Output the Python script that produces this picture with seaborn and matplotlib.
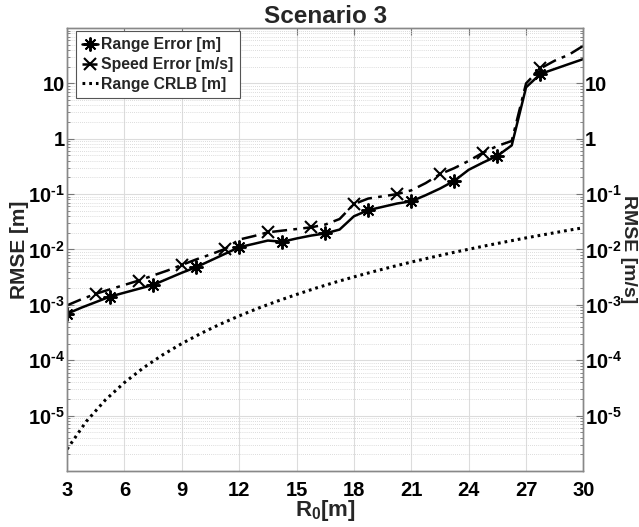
import matplotlib
matplotlib.use("Agg")
import numpy as np
import pandas as pd
import matplotlib.pyplot as plt
import seaborn as sns
from matplotlib.ticker import FixedLocator, FixedFormatter, LogLocator, NullFormatter

# ---------------- data ----------------
r0 = [3.0, 3.75, 4.5, 5.25, 6.0, 6.75, 7.5, 8.25, 9.0, 9.75, 10.5, 11.25,
      12.0, 12.75, 13.5, 14.25, 15.0, 15.75, 16.5, 17.25, 18.0, 18.75, 19.5,
      20.25, 21.0, 21.75, 22.5, 23.25, 24.0, 24.75, 25.5, 26.25, 27.0, 27.75,
      28.5, 29.25, 30.0]

range_error = [6.9e-4, 8.9e-4, 1.12e-3, 1.41e-3, 1.66e-3, 1.95e-3, 2.29e-3,
               2.95e-3, 3.80e-3, 4.79e-3, 6.31e-3, 8.32e-3, 0.0110, 0.0126,
               0.0145, 0.0138, 0.0158, 0.0178, 0.0195, 0.0229, 0.0398, 0.0513,
               0.0589, 0.0676, 0.0741, 0.0955, 0.126, 0.174, 0.275, 0.372,
               0.490, 0.759, 8.5, 14.8, 18.2, 22.4, 27.5]

speed_error = [9.8e-4, 1.26e-3, 1.58e-3, 1.91e-3, 2.29e-3, 2.75e-3, 3.39e-3,
               4.17e-3, 5.25e-3, 6.61e-3, 8.13e-3, 0.0102, 0.0151, 0.0174,
               0.0204, 0.0219, 0.0234, 0.0251, 0.0282, 0.0355, 0.0661, 0.0832,
               0.0912, 0.100, 0.117, 0.158, 0.229, 0.295, 0.398, 0.562, 0.741,
               0.912, 10.0, 18.6, 25.7, 33.1, 47.9]

range_marker_idx = [0, 3, 6, 9, 12, 15, 18, 21, 24, 27, 30, 33]
speed_marker_idx = [2, 5, 8, 11, 14, 17, 20, 23, 26, 29, 33]

r0_crlb = [3, 4, 5, 6, 7, 8, 9, 10, 11, 12, 13, 14, 15, 16, 17, 18, 19, 20,
           21, 22, 23, 24, 25, 26, 27, 28, 29, 30]
range_crlb = [2.47e-6, 7.8e-6, 1.91e-5, 3.95e-5, 7.32e-5, 1.25e-4, 2.00e-4,
              3.05e-4, 4.47e-4, 6.32e-4, 8.71e-4, 1.17e-3, 1.54e-3, 2.00e-3,
              2.55e-3, 3.20e-3, 3.97e-3, 4.88e-3, 5.93e-3, 7.14e-3, 8.54e-3,
              1.01e-2, 1.19e-2, 1.39e-2, 1.62e-2, 1.87e-2, 2.16e-2, 2.47e-2]

x_ticks = [3, 6, 9, 12, 15, 18, 21, 24, 27, 30]
y_ticks = [1e-5, 1e-4, 1e-3, 1e-2, 1e-1, 1, 10]
y_tick_labels = [r"$10^{\text{-}5}$", r"$10^{\text{-}4}$", r"$10^{\text{-}3}$",
                 r"$10^{\text{-}2}$", r"$10^{\text{-}1}$", "1", "10"]

# ---------------- style ----------------
sns.set_theme(style="white")
plt.rcParams.update({
    "font.family": ["Liberation Sans", "DejaVu Sans"],
    "font.weight": "bold",
    "mathtext.fontset": "custom",
    "mathtext.rm": "Liberation Sans:bold",
    "mathtext.it": "Liberation Sans:bold",
    "mathtext.bf": "Liberation Sans:bold",
    "mathtext.sf": "Liberation Sans:bold",
    "mathtext.default": "rm",
})

TICK = 14.5
LAB = 15

fig = plt.figure(figsize=(6.39, 5.27), dpi=100)
ax = fig.add_axes([0.1049, 0.1063, 0.8082, 0.8406])

df = pd.DataFrame({"r0": r0, "range": range_error, "speed": speed_error})
dfc = pd.DataFrame({"r0": r0_crlb, "crlb": range_crlb})

sns.lineplot(data=df, x="r0", y="range", ax=ax, color="black", linewidth=1.8,
             marker=(8, 2, 0), markersize=10, markeredgewidth=1.4,
             markeredgecolor="black", markevery=range_marker_idx,
             label="Range Error [m]")
sns.lineplot(data=df, x="r0", y="speed", ax=ax, color="black", linewidth=1.8,
             linestyle=(0, (6, 2.5, 1.5, 2.5)),
             marker="x", markersize=9, markeredgewidth=1.5,
             markeredgecolor="black", markevery=speed_marker_idx,
             label="Speed Error [m/s]")
sns.lineplot(data=dfc, x="r0", y="crlb", ax=ax, color="black", linewidth=2.2,
             linestyle=(0, (0.9, 1.3)), label="Range CRLB [m]")

ax.set_yscale("log")
ax.set_xlim(3, 30)
ax.set_ylim(1e-6, 100)

ax.xaxis.set_major_locator(FixedLocator(x_ticks))
ax.set_xticklabels([str(t) for t in x_ticks])
ax.yaxis.set_major_locator(FixedLocator(y_ticks))
ax.yaxis.set_major_formatter(FixedFormatter(y_tick_labels))
ax.yaxis.set_minor_locator(LogLocator(base=10, subs=np.arange(2, 10), numticks=20))
ax.yaxis.set_minor_formatter(NullFormatter())

ax.set_axisbelow(True)
ax.grid(True, which="major", color="#dcdcdc", linewidth=0.8, linestyle="-")
ax.grid(True, which="minor", axis="y", color="#d0d0d0", linewidth=0.6,
        linestyle=(0, (1, 1.5)))

ax.tick_params(axis="both", which="both", direction="in", top=True,
               right=False, labelsize=TICK, colors="black")
ax.tick_params(axis="both", which="major", length=5, width=0.8, color="#777777")
ax.tick_params(axis="both", which="minor", length=2.5, width=0.6, color="#777777")
ax.tick_params(axis="x", pad=7)
ax.tick_params(axis="y", pad=1.5)
for lab in ax.get_xticklabels() + ax.get_yticklabels():
    lab.set_fontweight("bold")

for sp in ax.spines.values():
    sp.set_color("#888888")
    sp.set_linewidth(1.0)

ax.set_xlabel(r"$R_0$[m]", fontsize=16, fontweight="bold", labelpad=-1)
ax.set_ylabel("RMSE [m]", fontsize=LAB, fontweight="bold",
              ha="center", va="center")
ax.yaxis.set_label_coords(-0.092, 0.5)
ax.set_title("Scenario 3", fontsize=17.5, fontweight="bold", pad=3)

# right axis (same scale)
ax2 = ax.twinx()
ax2.set_yscale("log")
ax2.set_ylim(1e-6, 100)
ax2.yaxis.set_major_locator(FixedLocator(y_ticks))
ax2.yaxis.set_major_formatter(FixedFormatter(y_tick_labels))
ax2.yaxis.set_minor_locator(LogLocator(base=10, subs=np.arange(2, 10), numticks=20))
ax2.yaxis.set_minor_formatter(NullFormatter())
ax2.tick_params(axis="y", which="both", direction="in", labelsize=TICK,
                colors="black", pad=1.0)
ax2.tick_params(axis="y", which="major", length=5, width=0.8, color="#777777")
ax2.tick_params(axis="y", which="minor", length=2.5, width=0.6, color="#777777")
for lab in ax2.get_yticklabels():
    lab.set_fontweight("bold")
ax2.set_ylabel("RMSE [m/s]", fontsize=14, fontweight="bold", rotation=-90,
               ha="center", va="center")
ax2.yaxis.set_label_coords(1.0875, 0.5)
for sp in ax2.spines.values():
    sp.set_color("#888888")
    sp.set_linewidth(1.0)
ax2.grid(False)

leg = ax.legend(loc="upper left", bbox_to_anchor=(0.0174, 0.993),
                borderaxespad=0, frameon=True, fancybox=False,
                edgecolor="#555555", framealpha=1,
                prop={"weight": "bold", "size": 11.3},
                handlelength=1.0, handletextpad=0.2, borderpad=0.4,
                labelspacing=0.3)
leg.get_frame().set_linewidth(0.8)

fig.savefig("out.png", dpi=100)
